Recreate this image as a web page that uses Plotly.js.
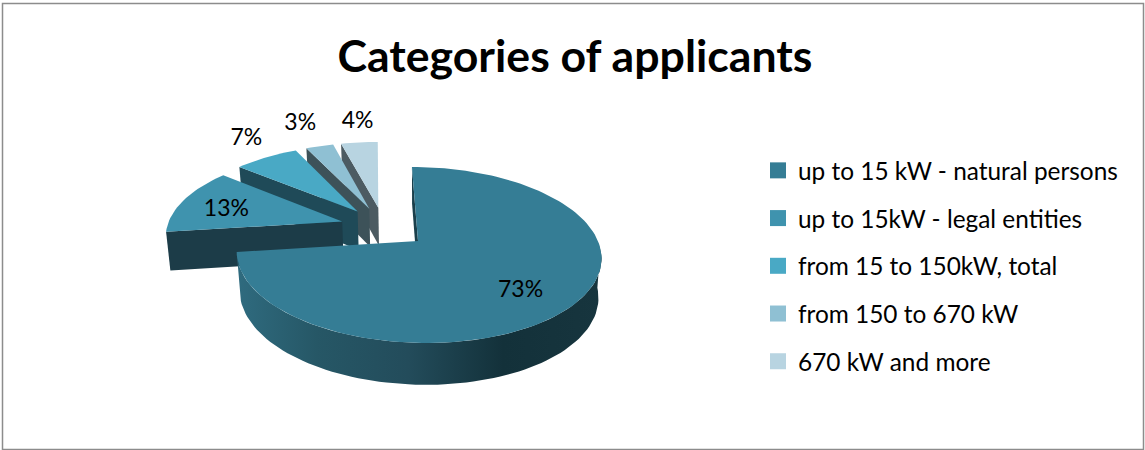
<!DOCTYPE html>
<html>
<head>
<meta charset="utf-8">
<script src="https://cdn.plot.ly/plotly-3.0.1.min.js"></script>
<style>html,body{margin:0;padding:0;background:#fff;overflow:hidden}</style>
</head>
<body>
<div id="chart" style="width:1145px;height:450px"></div>
<script>
// ---- data ----
const categories = ['up to 15 kW - natural persons','up to 15kW - legal entities','from 15 to 150kW, total','from 150 to 670 kW','670 kW and more'];
const values = [73, 13, 7, 3, 4];
const chartTitle = 'Categories of applicants';
// ---- styles ----
const topColors = ['#357d95','#3f93ae','#49a9c5','#8fc0d3','#b8d4e1'];
const wallColors = ['#1a3f4b','#1c3c48','#1f4a58','#3d5259','#4c5b62'];
const labelRadius = [0.70, 0.62, 1.30, 1.32, 1.30];
const labelShift = [[-3,7],[-16,2],[4,-4],[-6,-5],[3,-4]];

// ---- perspective model of the tilted, exploded pie ----
const cam = {cx:418, cy:241, a:180, b:85.8, k:0.159, s:-7, depth:39, shrink:0.983};
const centre = {x:-0.1875, y:0.1653}, explode = 0.25;
function project(wx, wy, low){
  const w = 1 + cam.k*wy;
  let sx = cam.cx + (cam.a*wx + cam.s*wy)/w;
  let sy = cam.cy - cam.b*wy/w;
  if(low){ sy += cam.depth/Math.pow(w,0.4); sx = cam.cx + (sx-cam.cx)*cam.shrink; }
  return [sx, sy];
}
const total = values.reduce((p,c)=>p+c,0);
const rad = d => d*Math.PI/180;
let run = 0;
const slices = values.map(v=>{
  const start = run/total*360; run += v; const end = run/total*360;
  const mid = (start+end)/2;
  return {start, end, mid,
    ox: centre.x + explode*Math.sin(rad(mid)),
    oy: centre.y + explode*Math.cos(rad(mid))};
});
function rim(sl, deg, low){ return project(sl.ox+Math.sin(rad(deg)), sl.oy+Math.cos(rad(deg)), low); }
function arc(sl, d0, d1, low){
  const n = Math.max(2, Math.ceil(Math.abs(d1-d0)/2)), pts = [];
  for(let i=0;i<=n;i++) pts.push(rim(sl, d0+(d1-d0)*i/n, low));
  return pts;
}
function poly(pts, extra){
  const closed = pts.concat([pts[0]]);
  return Object.assign({type:'scatter', mode:'lines', x:closed.map(p=>p[0]), y:closed.map(p=>p[1]),
    fill:'toself', line:{width:0}, showlegend:false, hoverinfo:'skip'}, extra);
}
const traces = [];
// back slices first, main slice last
[4,3,2,1,0].forEach(i=>{
  const sl = slices[i];
  const apexT = project(sl.ox, sl.oy, false), apexB = project(sl.ox, sl.oy, true);
  traces.push(poly([apexT, rim(sl,sl.start,false), rim(sl,sl.start,true), apexB], {fillcolor:wallColors[i]}));
  if(i===0){
    const top = arc(sl, 95, sl.end, false), bottom = arc(sl, 95, sl.end, true).reverse();
    traces.push(poly(top.concat(bottom), {
      fillcolor:'#234b59',
      fillgradient:{type:'horizontal', colorscale:[[0,'#2f6b7f'],[0.22,'#265766'],[0.47,'#234c5b'],[0.73,'#13313a'],[1,'#17353e']]}
    }));
  }
  traces.push(poly([apexT].concat(arc(sl, sl.start, sl.end, false)), {fillcolor:topColors[i]}));
});
// percentage labels
const labelPts = slices.map((sl,i)=>{
  const p = project(sl.ox+labelRadius[i]*Math.sin(rad(sl.mid)), sl.oy+labelRadius[i]*Math.cos(rad(sl.mid)), false);
  return [p[0]+labelShift[i][0], p[1]+labelShift[i][1]];
});
traces.push({type:'scatter', mode:'text', x:labelPts.map(p=>p[0]), y:labelPts.map(p=>p[1]),
  text:values.map(v=>v+'%'), textposition:'middle center',
  textfont:{family:'Lato, sans-serif', size:23, color:'#000'}, showlegend:false, hoverinfo:'skip'});
// legend entries
categories.forEach((c,i)=>traces.push({type:'scatter', mode:'markers', x:[null], y:[null], name:c,
  legendgroup:'g'+i, marker:{symbol:'square', size:16, color:topColors[i]}}));

const layout = {
  width:1145, height:450, margin:{l:0,r:0,t:0,b:0}, paper_bgcolor:'#fff', plot_bgcolor:'#fff',
  title:{text:chartTitle, xref:'container', yref:'container', x:575/1145, xanchor:'center', y:1-56/450, yanchor:'middle',
    font:{family:'Lato, sans-serif', size:44.6, color:'#000', weight:700}},
  xaxis:{range:[0,1145], visible:false, fixedrange:true},
  yaxis:{range:[450,0], visible:false, fixedrange:true},
  showlegend:true,
  legend:{x:770/1145, xanchor:'left', y:1-148/450, yanchor:'top', bgcolor:'rgba(0,0,0,0)', borderwidth:0,
    font:{family:'Lato, sans-serif', size:24.4, color:'#000'}, tracegroupgap:13, itemwidth:30, indentation:-12, itemclick:false, itemdoubleclick:false},
  shapes:[{type:'rect', xref:'paper', yref:'paper', x0:2.5/1145, x1:1143.5/1145, y0:1-449.5/450, y1:1-3.5/450, line:{color:'#8c8c8c', width:1.5}}]
};
Plotly.newPlot('chart', traces, layout, {displayModeBar:false});
</script>
</body>
</html>
